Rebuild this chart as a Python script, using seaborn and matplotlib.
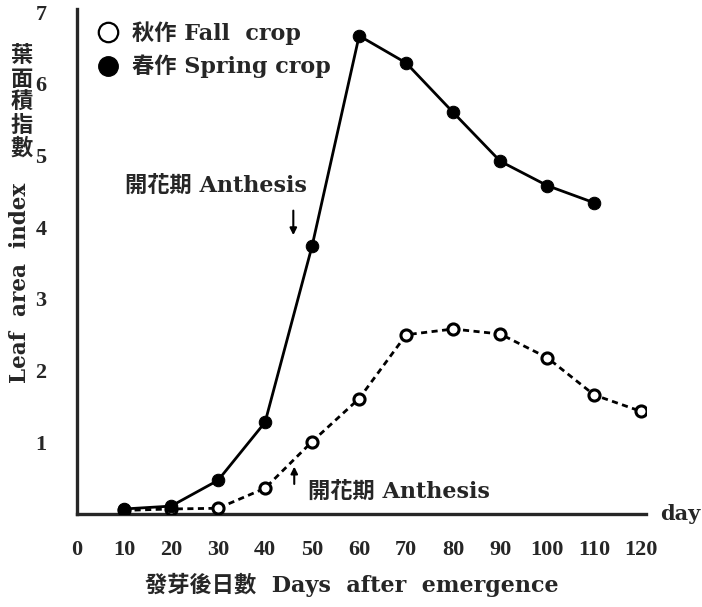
import matplotlib
matplotlib.use("Agg")
import matplotlib.pyplot as plt
from matplotlib.lines import Line2D
import pandas as pd
import seaborn as sns

# Leaf area index of fall and spring crops, by days after emergence
fall_days = [10, 20, 30, 40, 50, 60, 70, 80, 90, 100, 110, 120]
fall_lai = [0.05, 0.07, 0.08, 0.36, 1.01, 1.61, 2.50, 2.58, 2.51, 2.18, 1.66, 1.43]
spring_days = [10, 20, 30, 40, 50, 60, 70, 80, 90, 100, 110]
spring_lai = [0.07, 0.11, 0.47, 1.28, 3.74, 6.67, 6.29, 5.60, 4.92, 4.58, 4.34]

x_ticks = [0, 10, 20, 30, 40, 50, 60, 70, 80, 90, 100, 110, 120]
y_ticks = [1, 2, 3, 4, 5, 6, 7]

fall_label = "秋作 Fall  crop"
spring_label = "春作 Spring crop"
anthesis_label = "開花期 Anthesis"

sns.set_style("white")
plt.rcParams["font.family"] = ["DejaVu Serif", "Noto Sans CJK TC"]
serif_cjk = ["DejaVu Serif", "Noto Sans CJK TC"]

fall = pd.DataFrame({"day": fall_days, "lai": fall_lai})
spring = pd.DataFrame({"day": spring_days, "lai": spring_lai})

fig = plt.figure(figsize=(7.02, 6.07), dpi=100)
ax = fig.add_axes([77 / 702, 93 / 607, 569 / 702, 505.5 / 607])

sns.lineplot(data=fall, x="day", y="lai", ax=ax, color="black",
             linewidth=2.0, linestyle=(0, (2.2, 1.6)), marker="o",
             markersize=8, markerfacecolor="white", markeredgecolor="black",
             markeredgewidth=2.2, zorder=3)
sns.lineplot(data=spring, x="day", y="lai", ax=ax, color="black",
             linewidth=2.0, marker="o", markersize=9,
             markerfacecolor="black", markeredgecolor="black", zorder=4)

ax.set_xlim(0, 121)
ax.set_ylim(0, 7.05)
ax.set_xticks(x_ticks)
ax.set_yticks(y_ticks)
ax.set_xticklabels([str(v) for v in x_ticks], fontfamily="Liberation Serif",
                   fontweight="bold", fontsize=16)
ax.set_yticklabels([str(v) for v in y_ticks], fontfamily="Liberation Serif",
                   fontweight="bold", fontsize=16)
ax.tick_params(axis="x", direction="in", length=4, width=1.5, pad=19)
ax.tick_params(axis="y", direction="in", length=4, width=1.5, pad=22)

for side in ("top", "right"):
    ax.spines[side].set_visible(False)
for side in ("left", "bottom"):
    ax.spines[side].set_linewidth(2.4)
ax.set_xlabel("")
ax.set_ylabel("")

# Legend with marker-only handles
handles = [
    Line2D([], [], linestyle="none", marker="o", markersize=14,
           markerfacecolor="white", markeredgecolor="black", markeredgewidth=1.6),
    Line2D([], [], linestyle="none", marker="o", markersize=14,
           markerfacecolor="black", markeredgecolor="black"),
]
ax.legend(handles, [fall_label, spring_label], loc="upper left",
          bbox_to_anchor=(0.035, 0.975), frameon=False, handlelength=1.0,
          handletextpad=0.6, labelspacing=0.45, borderpad=0, borderaxespad=0,
          prop={"family": serif_cjk, "size": 16, "weight": "bold"})

# Anthesis markers
ax.text(10.2, 4.57, anthesis_label, fontsize=16, fontweight="bold",
        family=serif_cjk, va="center", ha="left")
ax.annotate("", xy=(46, 3.85), xytext=(46, 4.27),
            arrowprops=dict(arrowstyle="-|>", color="black", lw=1.5,
                            mutation_scale=10))
ax.text(49.1, 0.31, anthesis_label, fontsize=16, fontweight="bold",
        family=serif_cjk, va="center", ha="left")
ax.annotate("", xy=(46.2, 0.7), xytext=(46.2, 0.38),
            arrowprops=dict(arrowstyle="-|>", color="black", lw=1.5,
                            mutation_scale=10))

# Axis titles
ax.text(124, 0.0, "day", fontsize=15, fontweight="bold", va="center",
        ha="left", clip_on=False)
fig.text(352 / 702, 1 - 585 / 607, "發芽後日數  Days  after  emergence",
         fontsize=16, fontweight="bold", family=serif_cjk, ha="center", va="center")
fig.text(22 / 702, 1 - 102 / 607, "葉\n面\n積\n指\n數", fontsize=16,
         family=["Noto Sans CJK TC"], fontweight="bold", ha="center",
         va="center", linespacing=1.0)
fig.text(20 / 702, 1 - 283 / 607, "Leaf  area  index", fontsize=15.5,
         fontweight="bold", rotation=90, ha="center", va="center")

fig.savefig("out.png", dpi=100)
